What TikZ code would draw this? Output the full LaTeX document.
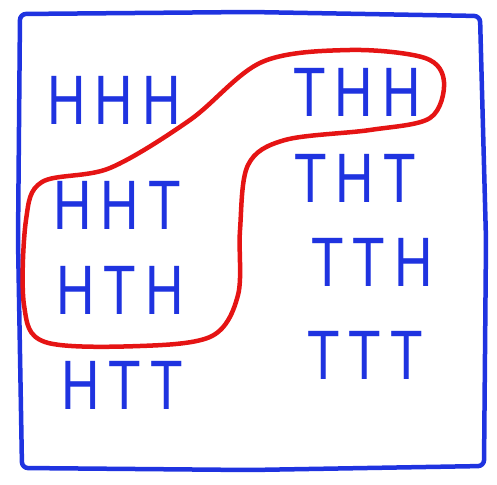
\documentclass[tikz,border=0pt]{standalone}
\usepackage{fontspec}
\setmainfont{Liberation Sans}
\definecolor{PenBlue}{rgb}{0.12,0.2,0.88}
\definecolor{PenRed}{rgb}{0.9,0.08,0.08}
\tikzset{
  outcome/.style={text=PenBlue,font=\fontsize{70}{70}\selectfont,inner sep=0pt,xscale=0.76,transform shape},
  pen/.style={line width=4.5pt,line cap=round,line join=round}
}
\begin{document}
\begin{tikzpicture}[x=1pt,y=-1pt]
  \useasboundingbox (0,0) rectangle (497,484);

  % the frame
  \draw[pen,PenBlue,rounded corners=6pt] (20,14) -- (250,12) -- (480,16)
    -- (486,240) -- (484,466) -- (250,470) -- (22,468) -- (18,240) -- cycle;

  \node (hhh) [outcome] at (114,100) {H\,H\,H};
  \node (thh) [outcome] at (357,92) {T\,H\,H};
  \node (hht) [outcome] at (117,205) {H\,H\,T};
  \node (tht) [outcome] at (355,178) {T\,H\,T};
  \node (hth) [outcome] at (120,290) {H\,T\,H};
  \node (tth) [outcome] at (372,262) {T\,T\,H};
  \node (htt) [outcome] at (122,385) {H\,T\,T};
  \node (ttt) [outcome] at (365,355) {T\,T\,T};

  % the event that was circled
  \draw[pen,PenRed] plot[smooth cycle,tension=0.55] coordinates {
    (262,62) (350,50) (425,58) (444,82) (430,118) (370,130) (285,140)
    (248,165) (240,230) (238,295) (212,336) (140,346) (45,342)
    (24,305) (26,220) (42,182) (110,168) (190,120)};
\end{tikzpicture}
\end{document}
